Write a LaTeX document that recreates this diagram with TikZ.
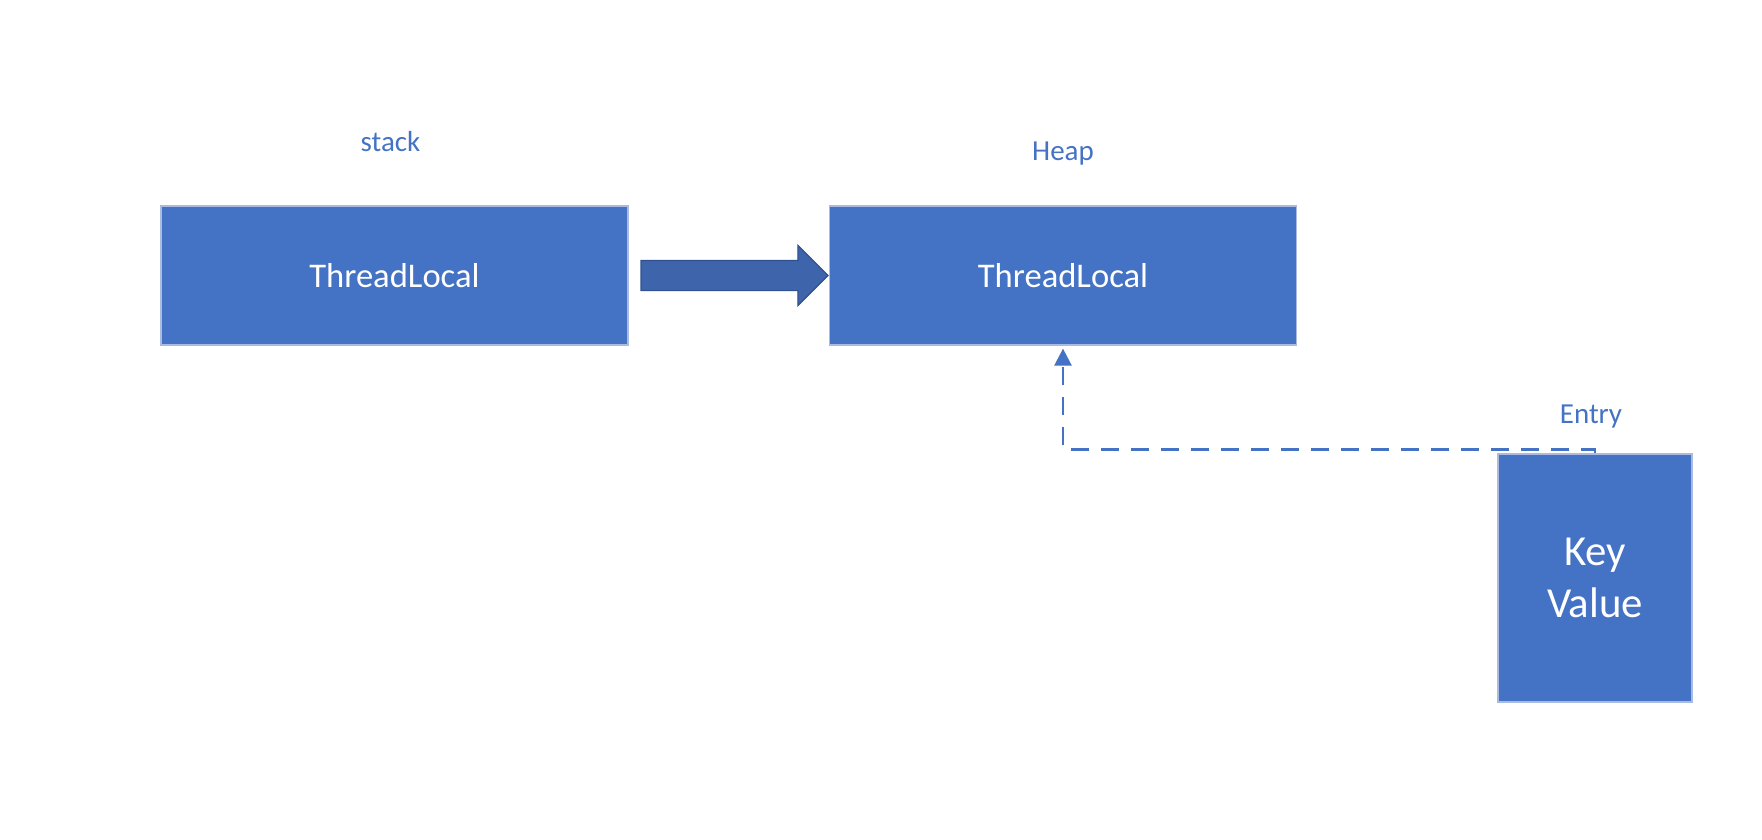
\documentclass[tikz,border=0pt]{standalone}
\usepackage{fontspec}
\setmainfont{Carlito}
\usetikzlibrary{positioning,arrows.meta,shapes.arrows}

\definecolor{boxblue}{HTML}{4472C4}
\definecolor{boxedge}{HTML}{A9BCE0}
\definecolor{ptrblue}{HTML}{3E64AC}
\definecolor{ptredge}{HTML}{2F528F}

\tikzset{
	block/.style = {fill = boxblue, draw = boxedge, line width = 0.6pt, text = white, inner sep = 0pt, align = center},
	lbl/.style = {text = boxblue, inner sep = 0pt, font = \fontsize{14.5}{17}\selectfont},
	ptr/.style = {single arrow, fill = ptrblue, draw = ptredge, line width = 0.6pt, inner sep = 0pt,
		text height = 14.5pt, text depth = 0pt, minimum height = 93.5pt, single arrow head extend = 7.5pt},
	refline/.style = {draw = boxblue, line width = 1.2pt, dash pattern = on 9pt off 6pt,
		-{Triangle[width = 8.5pt, length = 8.5pt]}}
}

\begin{document}
\begin{tikzpicture}[x = 0.5pt, y = -0.5pt]
	\useasboundingbox (0,0) rectangle (1762,840);
	% boxes
	\node[block, minimum width = 233.5pt, minimum height = 69.5pt, font = \fontsize{17.3}{20}\selectfont] (STK) at (394.5,275.5) {ThreadLocal};
	\node[block, minimum width = 233.5pt, minimum height = 69.5pt, font = \fontsize{17.3}{20}\selectfont] (HEAP) at (1063,275.5) {ThreadLocal};
	\node[block, minimum width = 97pt, minimum height = 124pt, font = \fontsize{21.4}{26.4}\selectfont] (ENT) at (1595,578) {Key\\Value};
	% labels
	\node[lbl, above = 26.5pt of STK, xshift = -2pt] (STKLBL) {stack};
	\node[lbl, above = 20pt of HEAP] (HEAPLBL) {Heap};
	\node[lbl, above = 12.5pt of ENT, xshift = -2pt] (ENTLBL) {Entry};
	% connectors
	\node[ptr, anchor = tip] (PTR) at (HEAP.west) {};
	\draw[refline] (ENT.north) -- ++(0,-4) -| ([yshift = -1.5pt]HEAP.south);
\end{tikzpicture}
\end{document}
